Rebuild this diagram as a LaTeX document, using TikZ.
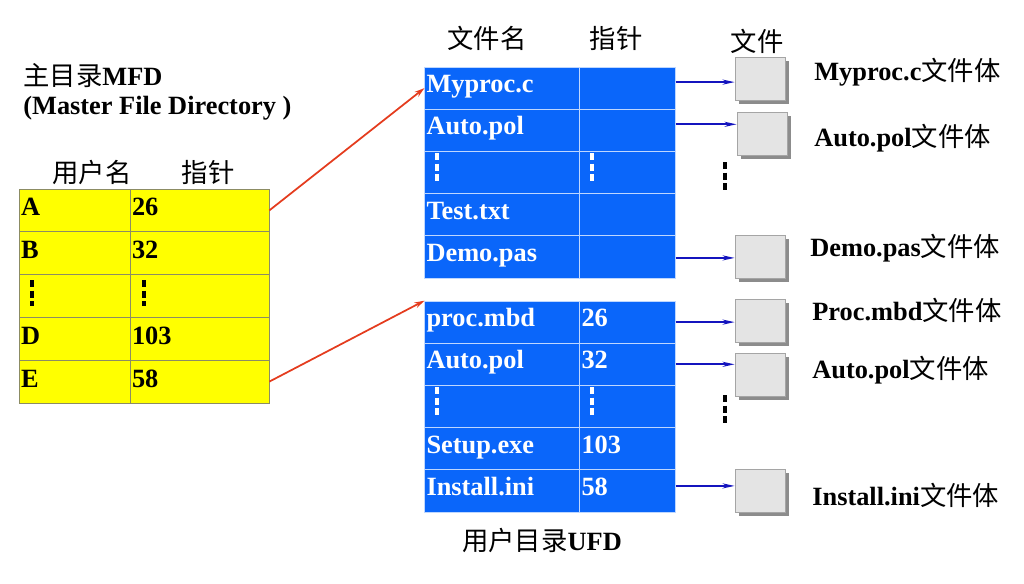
\documentclass[tikz,border=0pt]{standalone}
\usepackage{fontspec}
\usepackage{xcolor}
\usepackage{tikz}
\usetikzlibrary{arrows.meta,shadows}
\setmainfont{Liberation Serif}
\newfontfamily\cjk{Noto Sans CJK SC}

\definecolor{mfdyellow}{RGB}{255,255,0}
\definecolor{mfdline}{RGB}{140,140,100}
\definecolor{ufdblue}{RGB}{10,102,250}
\definecolor{ufdline}{RGB}{190,215,255}
\definecolor{ptrred}{RGB}{228,60,30}
\definecolor{ptrblue}{RGB}{20,20,190}
\definecolor{boxgray}{RGB}{228,228,228}
\definecolor{boxline}{RGB}{165,165,165}

\tikzset{
  mfdcell/.style={draw=mfdline,fill=mfdyellow,minimum height=0.856cm,inner xsep=1pt,inner ysep=0pt,
    text height=10pt,text depth=3.8pt,align=left},
  mfdname/.style={mfdcell,minimum width=2.22cm,text width=2.14cm},
  mfdptr/.style={mfdcell,minimum width=2.78cm,text width=2.70cm},
  ufdcell/.style={draw=ufdline,fill=ufdblue,text=white,minimum height=0.844cm,inner xsep=1pt,inner ysep=0pt,
    text height=10pt,text depth=5pt,align=left},
  ufdname/.style={ufdcell,minimum width=3.1cm,text width=3.04cm},
  ufdptr/.style={ufdcell,minimum width=1.9cm,text width=1.84cm},
  filebox/.style={draw=boxline,fill=boxgray,minimum width=1cm,minimum height=0.86cm,inner sep=0pt,
    drop shadow={shadow xshift=0.07cm,shadow yshift=-0.07cm,fill=black!45,opacity=1}},
  dirptr/.style={draw=ptrred,line width=1pt,-{Stealth[length=0.2cm,width=0.12cm]}},
  fileptr/.style={draw=ptrblue,line width=1.1pt,-{Stealth[length=0.24cm,width=0.1cm]}},
  cutdots/.style={line width=0.08cm,dash pattern=on 0.14cm off 0.07cm},
  tag/.style={anchor=west,inner sep=0pt}
}

\begin{document}
\begin{tikzpicture}[x=0.02cm,y=-0.02cm,every node/.style={font=\fontsize{15}{18}\selectfont\bfseries}]
                \useasboundingbox (0,0) rectangle (1024,583);
                % master file directory
                \node [tag] (mfdtitle) at (23,76) {{\cjk\mdseries 主目录}MFD};
                \node [tag] (mfdfull) at (23,108) {(Master File Directory )};
                \node (mhname) at (92,172) {\cjk\mdseries 用户名};
                \node (mhptr) at (208,172) {\cjk\mdseries 指针};
                \node [mfdname] (m1n) at (74.5,210.4) {A};
                \node [mfdname] (m2n) at (74.5,253.2) {B};
                \node [mfdname] (m3n) at (74.5,296) {};
                \node [mfdname] (m4n) at (74.5,338.8) {D};
                \node [mfdname] (m5n) at (74.5,381.6) {E};
                \node [mfdptr] (m1p) at (199.5,210.4) {26};
                \node [mfdptr] (m2p) at (199.5,253.2) {32};
                \node [mfdptr] (m3p) at (199.5,296) {};
                \node [mfdptr] (m4p) at (199.5,338.8) {103};
                \node [mfdptr] (m5p) at (199.5,381.6) {58};
                \draw [cutdots] ([xshift=0.26cm,yshift=0.32cm]m3n.west) -- ([xshift=0.26cm,yshift=-0.20cm]m3n.west);
                \draw [cutdots] ([xshift=0.28cm,yshift=0.32cm]m3p.west) -- ([xshift=0.28cm,yshift=-0.20cm]m3p.west);
                % user file directories
                \node (uhname) at (487,38) {\cjk\mdseries 文件名};
                \node (uhptr) at (616,38) {\cjk\mdseries 指针};
                \node [ufdname] (u1n) at (502.5,88.1) {Myproc.c};
                \node [ufdname] (u2n) at (502.5,130.3) {Auto.pol};
                \node [ufdname] (u3n) at (502.5,172.5) {};
                \node [ufdname] (u4n) at (502.5,214.7) {Test.txt};
                \node [ufdname] (u5n) at (502.5,256.9) {Demo.pas};
                \node [ufdptr] (u1p) at (627.5,88.1) {};
                \node [ufdptr] (u2p) at (627.5,130.3) {};
                \node [ufdptr] (u3p) at (627.5,172.5) {};
                \node [ufdptr] (u4p) at (627.5,214.7) {};
                \node [ufdptr] (u5p) at (627.5,256.9) {};
                \node [ufdname] (u6n) at (502.5,322.1) {proc.mbd};
                \node [ufdname] (u7n) at (502.5,364.3) {Auto.pol};
                \node [ufdname] (u8n) at (502.5,406.5) {};
                \node [ufdname] (u9n) at (502.5,448.7) {Setup.exe};
                \node [ufdname] (u10n) at (502.5,490.9) {Install.ini};
                \node [ufdptr] (u6p) at (627.5,322.1) {26};
                \node [ufdptr] (u7p) at (627.5,364.3) {32};
                \node [ufdptr] (u8p) at (627.5,406.5) {};
                \node [ufdptr] (u9p) at (627.5,448.7) {103};
                \node [ufdptr] (u10p) at (627.5,490.9) {58};
                \draw [cutdots,white] ([xshift=0.26cm,yshift=0.39cm]u3n.west) -- ([xshift=0.26cm,yshift=-0.17cm]u3n.west);
                \draw [cutdots,white] ([xshift=0.26cm,yshift=0.39cm]u3p.west) -- ([xshift=0.26cm,yshift=-0.17cm]u3p.west);
                \draw [cutdots,white] ([xshift=0.26cm,yshift=0.39cm]u8n.west) -- ([xshift=0.26cm,yshift=-0.17cm]u8n.west);
                \draw [cutdots,white] ([xshift=0.26cm,yshift=0.39cm]u8p.west) -- ([xshift=0.26cm,yshift=-0.17cm]u8p.west);
                \node (ufdtitle) at (542,540) {{\cjk\mdseries 用户目录}UFD};
                % files
                \node (fhead) at (757,41) {\cjk\mdseries 文件};
                \node [filebox] (f1) at (760,78.5) {};
                \node [filebox] (f2) at (762,134) {};
                \node [filebox] (f3) at (760,256.5) {};
                \node [filebox] (f4) at (760,321) {};
                \node [filebox] (f5) at (760,375) {};
                \node [filebox] (f6) at (760,491) {};
                \draw [cutdots] (725,162) -- (725,190);
                \draw [cutdots] (725,395) -- (725,423);
                \node [tag] (f1tag) at (814,72) {Myproc.c{\cjk\mdseries 文件体}};
                \node [tag] (f2tag) at (814,138) {Auto.pol{\cjk\mdseries 文件体}};
                \node [tag] (f3tag) at (810,248) {Demo.pas{\cjk\mdseries 文件体}};
                \node [tag] (f4tag) at (812,310) {Proc.mbd{\cjk\mdseries 文件体}};
                \node [tag] (f5tag) at (812,370) {Auto.pol{\cjk\mdseries 文件体}};
                \node [tag] (f6tag) at (812,495) {Install.ini{\cjk\mdseries 文件体}};
                % pointers
                \draw [dirptr] (m1p.east) to (u1n.west);
                \draw [dirptr] (m5p.east) to (u6n.north west);
                \draw [fileptr] ([yshift=0.12cm]u1p.east) to ([yshift=0.12cm]u1p.east -| f1.west);
                \draw [fileptr] ([yshift=0.12cm]u2p.east) to ([yshift=0.12cm]u2p.east -| f2.west);
                \draw [fileptr] ([yshift=-0.02cm]u5p.east) to ([yshift=-0.02cm]u5p.east -| f3.west);
                \draw [fileptr] (u6p.east) to (u6p.east -| f4.west);
                \draw [fileptr] (u7p.east) to (u7p.east -| f5.west);
                \draw [fileptr] ([yshift=0.1cm]u10p.east) to ([yshift=0.1cm]u10p.east -| f6.west);
            \end{tikzpicture}
\end{document}
